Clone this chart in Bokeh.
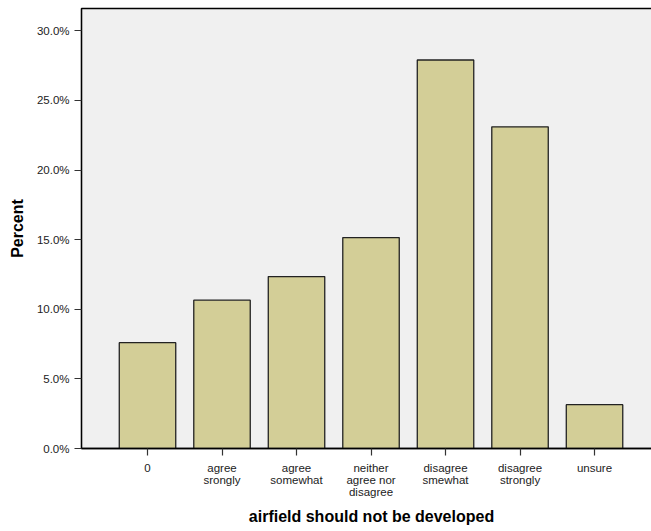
from bokeh.plotting import figure
from bokeh.models import Range1d, FixedTicker, PrintfTickFormatter
from bokeh.embed import file_html
from bokeh.resources import INLINE

categories = ["0", "agree\nsrongly", "agree\nsomewhat", "neither\nagree nor\ndisagree",
              "disagree\nsmewhat", "disagree\nstrongly", "unsure"]
percent = [7.6, 10.65, 12.35, 15.15, 27.9, 23.1, 3.15]
y_ticks = [0, 5, 10, 15, 20, 25, 30]

xs = list(range(len(categories)))

p = figure(width=661, height=531, output_backend="svg", toolbar_location=None,
           x_range=Range1d(-0.886, 6.899), y_range=Range1d(0, 31.6),
           min_border_left=81, min_border_right=0, min_border_top=8, min_border_bottom=83)

p.background_fill_color = "#F0F0F0"
p.border_fill_color = "white"
p.outline_line_color = "black"
p.outline_line_width = 1.3
p.xgrid.grid_line_color = None
p.ygrid.grid_line_color = None

p.vbar(x=xs, top=percent, bottom=0, width=0.758,
       fill_color="#D3CE97", line_color="#222222", line_width=1.3)

font = "Liberation Sans"
p.yaxis.ticker = FixedTicker(ticks=y_ticks)
p.yaxis.formatter = PrintfTickFormatter(format="%.1f%%")
p.xaxis.ticker = FixedTicker(ticks=xs)
p.xaxis.major_label_overrides = {i: c for i, c in zip(xs, categories)}

for ax in (p.xaxis, p.yaxis):
    ax.axis_line_color = "black"
    ax.axis_line_width = 1.3
    ax.major_tick_line_color = "#333333"
    ax.major_tick_line_width = 1.2
    ax.major_tick_out = 7
    ax.major_tick_in = 0
    ax.minor_tick_line_color = None
    ax.major_label_text_font = font
    ax.major_label_text_font_size = "11.5px"
    ax.major_label_text_color = "#222222"
    ax.axis_label_text_font = font
    ax.axis_label_text_font_size = "16px"
    ax.axis_label_text_font_style = "bold"
    ax.axis_label_text_color = "black"

p.xaxis.major_label_text_line_height = 1.0
p.xaxis.major_label_standoff = 6
p.yaxis.major_label_standoff = 5
p.xaxis.axis_label = "airfield should not be developed"
p.yaxis.axis_label = "Percent"
p.xaxis.axis_label_standoff = 7
p.yaxis.axis_label_standoff = 8

open("out.html", "w").write(file_html(p, INLINE))
